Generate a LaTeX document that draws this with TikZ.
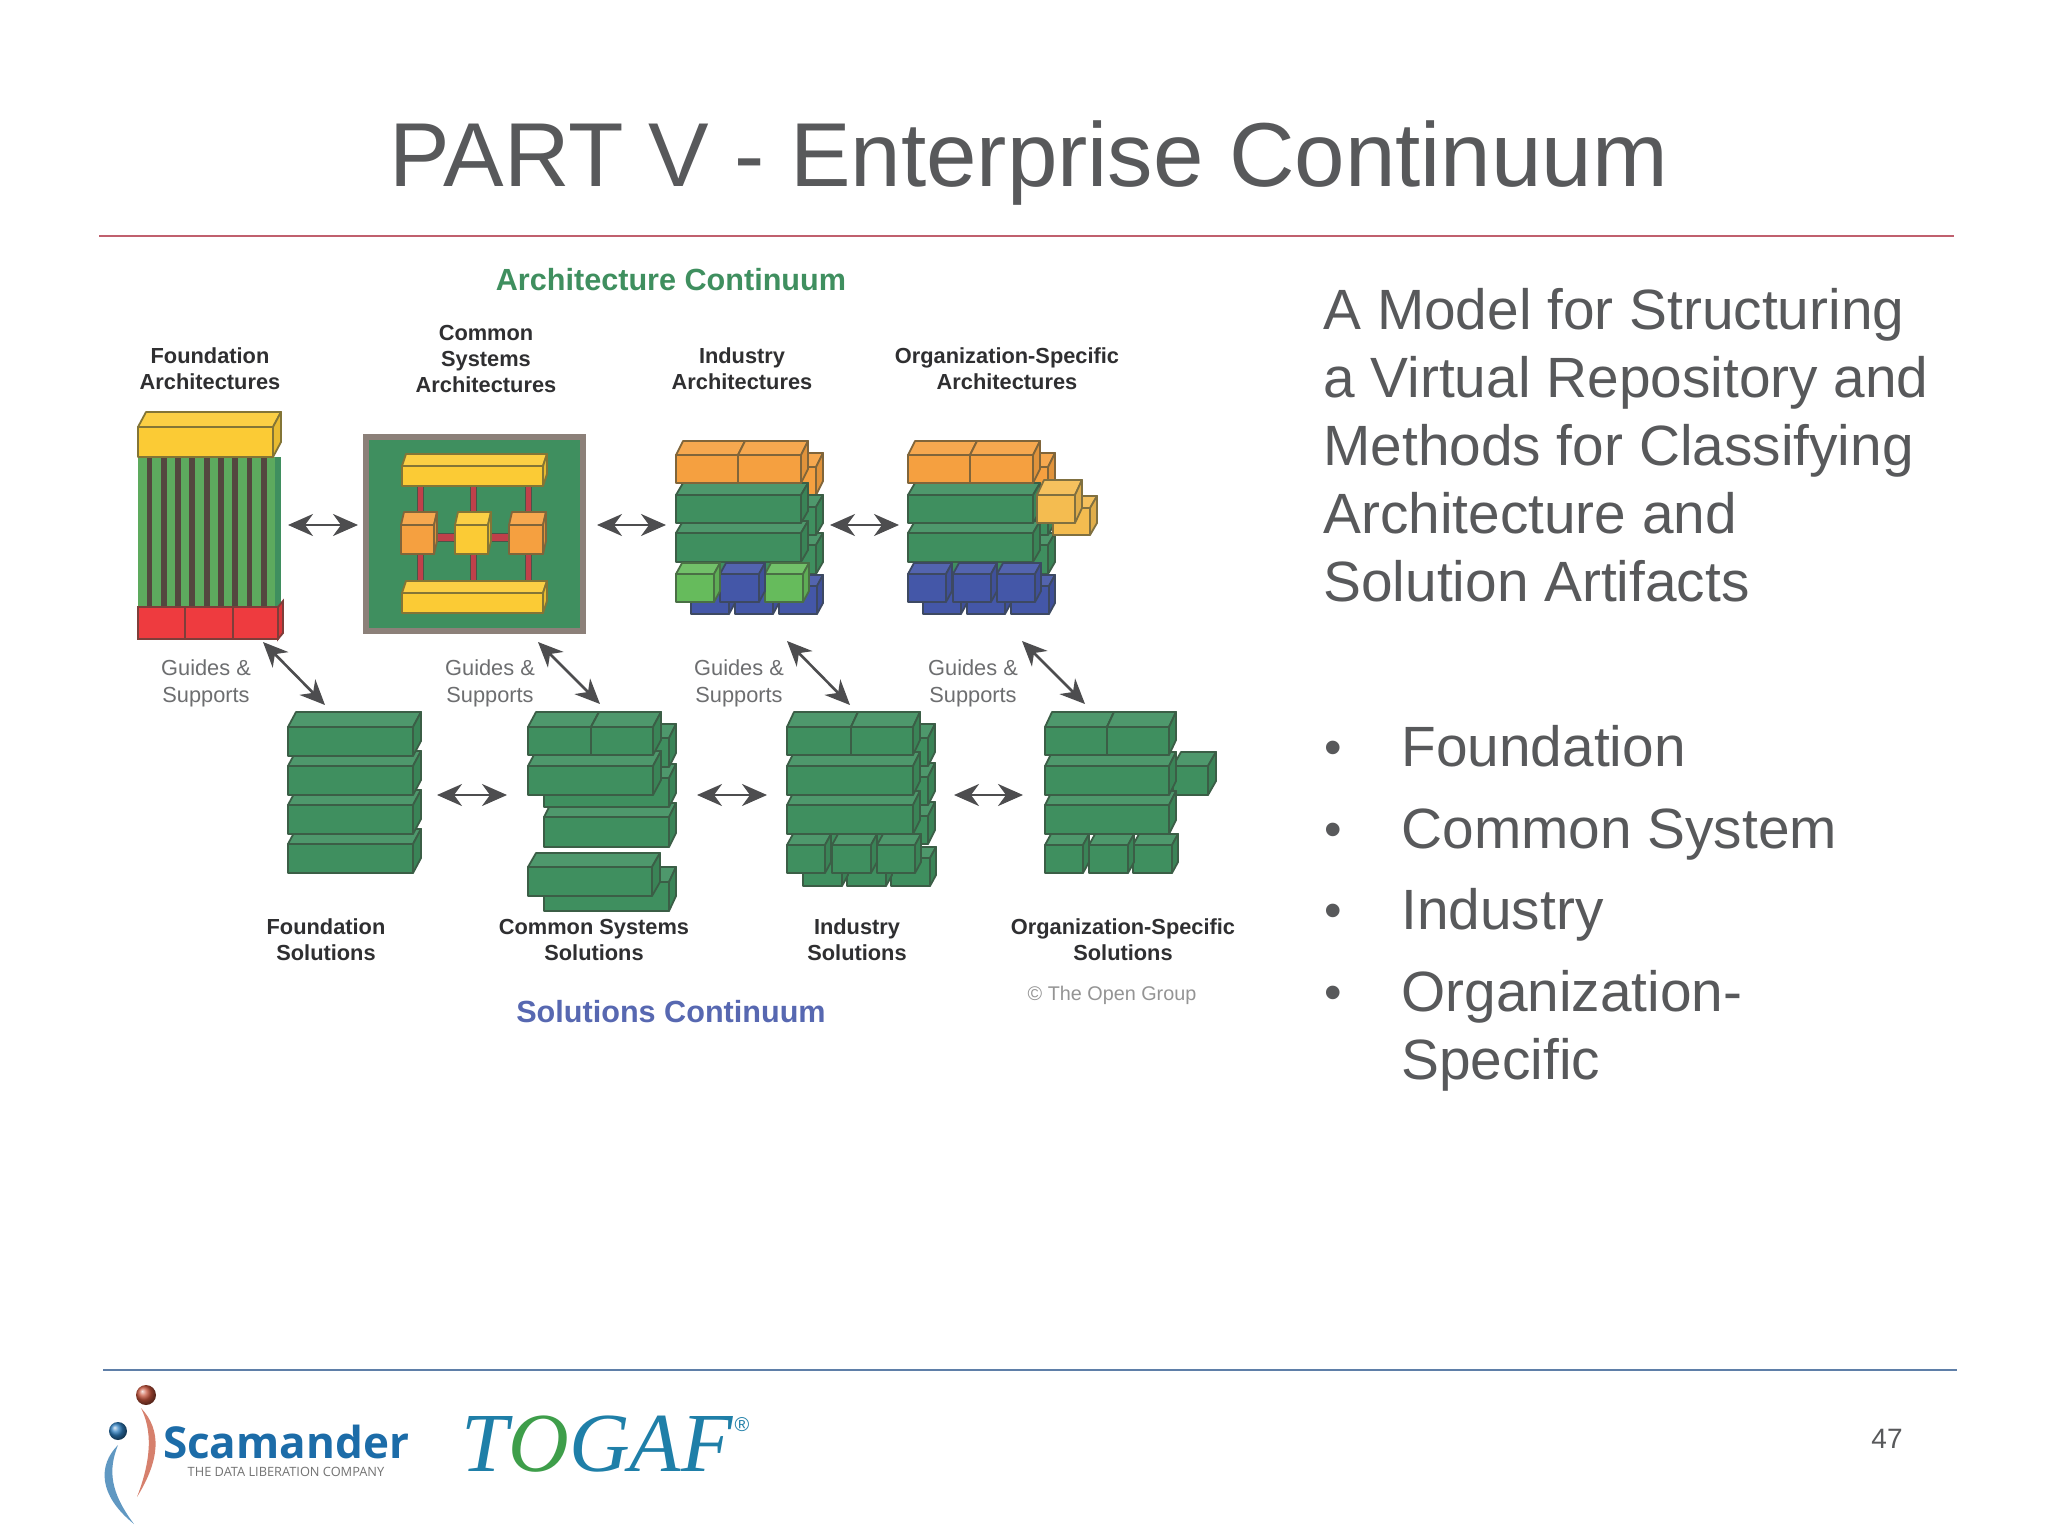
\documentclass[tikz,border=0pt]{standalone}
\usepackage{fontspec}
\usetikzlibrary{arrows.meta}
\setmainfont{Liberation Sans}
\newfontfamily\seriffam{Liberation Serif}
\newfontfamily\logofam{Open Sans}
\definecolor{ink}{HTML}{58595B}
\definecolor{lblink}{HTML}{2F2F31}
\definecolor{guide}{HTML}{6D6E70}
\definecolor{arrowc}{HTML}{4D4D4F}
\definecolor{edge}{HTML}{4A5548}
\definecolor{cgreen}{HTML}{3F8F5F}
\definecolor{lgreen}{HTML}{66BB5C}
\definecolor{corange}{HTML}{F5A040}
\definecolor{cyellow}{HTML}{FBCB35}
\definecolor{lorange}{HTML}{F4BC50}
\definecolor{cred}{HTML}{EE3B3F}
\definecolor{cblue}{HTML}{4457A8}
\definecolor{rod}{HTML}{C0404A}
\definecolor{frameg}{HTML}{8C8079}
\definecolor{stripe}{HTML}{5DAA5E}
\definecolor{stripeb}{HTML}{54473F}
\definecolor{topline}{HTML}{C0606E}
\definecolor{botline}{HTML}{5F7FA8}
\definecolor{togaf}{HTML}{1F7FA8}
\definecolor{togafo}{HTML}{3E9E4A}
\definecolor{scam}{HTML}{1C6CA8}
\definecolor{ballred}{HTML}{C8553D}
\definecolor{ballblue}{HTML}{2F7FC0}
\tikzset{
  biarrow/.style={draw=arrowc,line width=1.3pt,{Stealth[length=12.5pt,width=11pt,inset=4pt]}-{Stealth[length=12.5pt,width=11pt,inset=4pt]}},
  lbl/.style={align=center,inner sep=0pt,text=lblink,font=\bfseries\fontsize{10.9}{13}\selectfont},
  guidelbl/.style={align=center,inner sep=0pt,text=guide,font=\fontsize{10.9}{13.5}\selectfont},
  bodytxt/.style={anchor=west,align=left,inner sep=0pt,text=ink,font=\fontsize{28.4}{34}\selectfont},
  headtxt/.style={inner sep=0pt,font=\bfseries\fontsize{15.3}{18}\selectfont},
}
% x, y, w, h, dx, dy, colour
\newcommand{\brk}[7]{%
  \begin{scope}[draw=#7!45!edge!85!black,line width=0.9pt,line join=round]
  \draw[fill=#7!92!white] (#1,#2) -- ++(#5,-#6) -- ++(#3,0) -- ++(-#5,#6) -- cycle;
  \draw[fill=#7!92!black] (#1,#2) ++(#3,0) -- ++(#5,-#6) -- ++(0,#4) -- ++(-#5,#6) -- cycle;
  \draw[fill=#7] (#1,#2) rectangle ++(#3,#4);
  \end{scope}
}
\begin{document}
\begin{tikzpicture}[x=0.5pt,y=-0.5pt]
\useasboundingbox (0,0) rectangle (2048,1536);
\fill[white] (0,0) rectangle (2048,1536);

% title and rules
\node[inner sep=0pt,text=ink,font=\fontsize{45.4}{50}\selectfont] (title) at (1029,163) {PART V - Enterprise Continuum};
\coordinate (tl) at (99,236); \coordinate (tr) at (1954,236);
\draw[topline,line width=1pt] (tl) -- (tr);
\coordinate (bl) at (103,1370); \coordinate (br) at (1957,1370);
\draw[botline,line width=1pt] (bl) -- (br);

% right text
\node[bodytxt] (intro) at (1323,445) {A Model for Structuring\\a Virtual Repository and\\Methods for Classifying\\Architecture and\\Solution Artifacts};
\foreach \n/\y in {b1/753,b2/835,b3/916,b4/998}{\node[inner sep=0pt,text=ink,font=\fontsize{25}{30}\selectfont] (\n) at (1333,\y) {•};}
\foreach \n/\y/\t in {i1/766/Foundation,i2/848/Common System,i3/929/Industry}{
  \node[anchor=base west,inner sep=0pt,text=ink,font=\fontsize{28.4}{34}\selectfont] (\n) at (1401,\y) {\t};}
\node[bodytxt] (i4) at (1401,1031) {Organization-\\Specific};

% headings
\node[headtxt,text=cgreen] (ac) at (671,280) {Architecture Continuum};
\node[headtxt,text=cblue!90!white] (sc) at (671,1012) {Solutions Continuum};
\node[lbl] (la1) at (210,369) {Foundation\\Architectures};
\node[lbl] (la2) at (486,359) {Common\\Systems\\Architectures};
\node[lbl] (la3) at (742,369) {Industry\\Architectures};
\node[lbl] (la4) at (1007,369) {Organization-Specific\\Architectures};
\node[lbl] (ls1) at (326,940) {Foundation\\Solutions};
\node[lbl] (ls2) at (594,940) {Common Systems\\Solutions};
\node[lbl] (ls3) at (857,940) {Industry\\Solutions};
\node[lbl] (ls4) at (1123,940) {Organization-Specific\\Solutions};
\node[guidelbl] (g1) at (206,683) {Guides \&\\Supports};
\node[guidelbl] (g2) at (490,683) {Guides \&\\Supports};
\node[guidelbl] (g3) at (739,683) {Guides \&\\Supports};
\node[guidelbl] (g4) at (973,683) {Guides \&\\Supports};
\node[inner sep=0pt,text=black!42,font=\fontsize{9.9}{12}\selectfont] (cr) at (1112,995) {© The Open Group};

% foundation architecture
\fill[cgreen] (273,457) rectangle (281,608);
\fill[stripeb] (138,457) rectangle (275,610);
\foreach \i in {0,...,9}{\fill[stripe] ({138+14.3*\i},457) rectangle ++(8.5,151);}
\brk{138}{427}{135}{30}{8}{15}{cyellow}
\draw[draw=cred!45!edge!85!black,line width=0.9pt,fill=cred!92!black] (278,607) -- (283,601) -- (283,633) -- (278,639) -- cycle;
\foreach \x/\w in {138/47,185/48,233/45}{\draw[draw=cred!45!edge!85!black,line width=0.9pt,fill=cred] (\x,607) rectangle ++(\w,32);}

% common systems architecture
\draw[fill=cgreen,draw=frameg,line width=3pt] (366,437) rectangle (583,631);
\foreach \x in {420,473,528}{
  \draw[draw=edge,fill=rod,line width=0.4pt] (\x-3,482) rectangle (\x+3,518);
  \draw[draw=edge,fill=rod,line width=0.4pt] (\x-3,550) rectangle (\x+3,587);
}
\foreach \x in {434,488}{\draw[draw=edge,fill=rod,line width=0.4pt] (\x,533) rectangle (\x+24,541);}
\brk{402}{466}{141}{20}{4}{12}{cyellow}
\brk{402}{593}{141}{20}{4}{12}{cyellow}
\brk{401}{525}{33}{29}{3}{13}{corange}
\brk{455}{525}{33}{29}{3}{13}{cyellow}
\brk{509}{525}{34}{29}{3}{13}{corange}

% industry architecture
\brk{691}{467}{125}{28}{7}{14}{corange}
\brk{691}{545}{125}{29}{7}{12}{cgreen}
\brk{691}{507}{125}{28}{7}{12}{cgreen}
\foreach \x in {779,735,691}{\brk{\x}{586}{38}{28}{6}{11}{cblue}}
\brk{676}{533}{125}{29}{7}{12}{cgreen}
\brk{676}{495}{125}{28}{7}{12}{cgreen}
\brk{676}{455}{62}{28}{7}{14}{corange}
\brk{738}{455}{63}{28}{7}{14}{corange}
\brk{765}{574}{38}{28}{6}{11}{lgreen}
\brk{720}{574}{39}{28}{6}{11}{cblue}
\brk{676}{574}{38}{28}{6}{11}{lgreen}

% organization-specific architecture
\brk{923}{467}{125}{28}{7}{14}{corange}
\brk{923}{545}{125}{29}{7}{12}{cgreen}
\brk{923}{507}{125}{28}{7}{12}{cgreen}
\foreach \x in {1011,967,923}{\brk{\x}{586}{38}{28}{6}{11}{cblue}}
\brk{908}{533}{125}{29}{7}{12}{cgreen}
\brk{908}{495}{125}{28}{7}{12}{cgreen}
\brk{908}{455}{62}{28}{7}{14}{corange}
\brk{970}{455}{63}{28}{7}{14}{corange}
\brk{997}{574}{38}{28}{6}{11}{cblue}
\brk{953}{574}{38}{28}{6}{11}{cblue}
\brk{908}{574}{38}{28}{6}{11}{cblue}
\brk{1053}{508}{37}{27}{7}{12}{lorange}
\brk{1037}{495}{38}{28}{7}{15}{lorange}

% foundation solutions
\foreach \y in {844,805,766,727}{\brk{288}{\y}{125}{29}{8}{15}{cgreen}}

% common systems solutions
\brk{544}{882}{125}{29}{7}{15}{cgreen}
\brk{528}{867}{124}{29}{8}{14}{cgreen}
\brk{544}{817}{125}{30}{7}{14}{cgreen}
\brk{544}{778}{125}{29}{7}{14}{cgreen}
\brk{544}{738}{125}{29}{7}{14}{cgreen}
\brk{528}{766}{125}{29}{8}{15}{cgreen}
\brk{528}{727}{63}{28}{8}{15}{cgreen}
\brk{591}{727}{62}{28}{8}{15}{cgreen}

% industry solutions
\foreach \y in {816,777,738}{\brk{803}{\y}{125}{28}{7}{14}{cgreen}}
\foreach \x in {891,847,803}{\brk{\x}{858}{39}{28}{6}{11}{cgreen}}
\brk{877}{845}{38}{28}{6}{11}{cgreen}
\brk{832}{845}{39}{28}{6}{11}{cgreen}
\brk{787}{845}{38}{28}{6}{11}{cgreen}
\brk{787}{805}{126}{29}{7}{14}{cgreen}
\brk{787}{766}{126}{29}{7}{14}{cgreen}
\brk{787}{727}{64}{28}{7}{15}{cgreen}
\brk{851}{727}{62}{28}{7}{15}{cgreen}

% organization-specific solutions
\brk{1173}{766}{35}{29}{8}{14}{cgreen}
\brk{1133}{845}{39}{28}{6}{11}{cgreen}
\brk{1089}{845}{39}{28}{6}{11}{cgreen}
\brk{1045}{845}{38}{28}{6}{11}{cgreen}
\brk{1045}{805}{124}{29}{7}{14}{cgreen}
\brk{1045}{766}{124}{29}{7}{14}{cgreen}
\brk{1045}{727}{62}{28}{7}{15}{cgreen}
\brk{1107}{727}{62}{28}{7}{15}{cgreen}

% arrows
\foreach \n/\xa/\ya/\xb/\yb in {h1/288/525/358/525,h2/597/525/666/525,h3/830/525/899/525,
  h4/437/795/507/795,h5/697/795/767/795,h6/954/795/1023/795,
  d1/263/642/325/705,d2/538/642/600/704,d3/787/641/850/705,d4/1022/641/1085/704}{
  \coordinate (\n a) at (\xa,\ya); \coordinate (\n b) at (\xb,\yb);
  \draw[biarrow] (\n a) -- (\n b);
}

% page number
\node[inner sep=0pt,text=ink,font=\fontsize{14}{16}\selectfont] (pg) at (1887,1439) {47};

% Scamander logo
\shade[ball color=ballred] (146,1395) circle (10);
\shade[ball color=ballblue] (118,1431) circle (9);
\fill[ballred!75!white] (141,1408) .. controls (162,1430) and (160,1460) .. (137,1497) .. controls (152,1458) and (152,1430) .. (141,1408) -- cycle;
\fill[scam!70!white] (118,1445) .. controls (98,1465) and (98,1495) .. (134,1524) .. controls (110,1492) and (108,1470) .. (118,1445) -- cycle;
\node[inner sep=0pt,text=scam,font=\logofam\bfseries\fontsize{22}{25}\selectfont] (sca) at (286,1442) {Scamander};
\node[inner sep=0pt,text=black!55,font=\logofam\fontsize{6.4}{8}\selectfont] (scb) at (286,1472) {THE DATA LIBERATION COMPANY};

% TOGAF logo
\node[inner sep=0pt,text=togaf,font=\seriffam\itshape\fontsize{42}{46}\selectfont] (tog) at (597,1444) {T\textcolor{togafo}{O}GAF};
\node[inner sep=0pt,text=togaf,font=\fontsize{10}{12}\selectfont] (reg) at (742,1425) {®};
\end{tikzpicture}
\end{document}
